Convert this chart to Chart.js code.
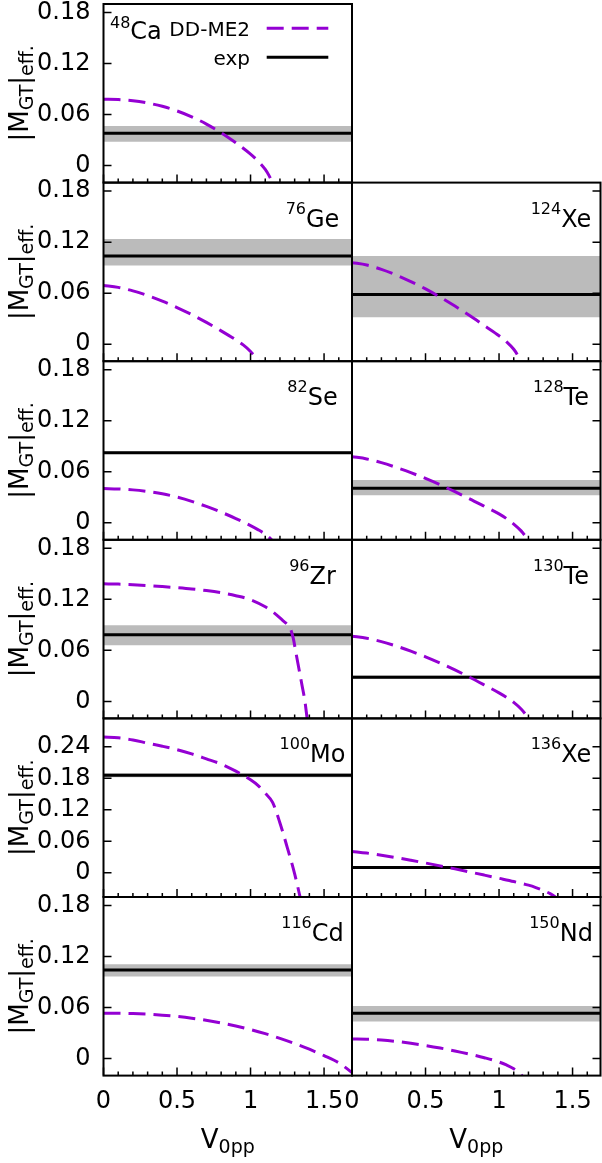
<!DOCTYPE html>
<html>
<head>
<meta charset="utf-8">
<script src="https://cdn.jsdelivr.net/npm/chart.js@4.4.1/dist/chart.umd.min.js"></script>
<style>
  html, body { margin: 0; padding: 0; background: #fff; }
  #figure { position: relative; width: 602px; height: 1163px; overflow: hidden; background: #fff; }
  #figure canvas { position: absolute; }
</style>
</head>
<body>
<div id="figure"></div>
<script>
// data
const massNumbers = ['48', '76', '82', '96', '100', '116', '124', '128', '130', '136', '150'];
const elements = ['Ca', 'Ge', 'Se', 'Zr', 'Mo', 'Cd', 'Xe', 'Te', 'Te', 'Xe', 'Nd'];
const expValue = [0.038, 0.1037, 0.0825, 0.0785, 0.1856, 0.1042, 0.0585, 0.0406, 0.0284, 0.0103, 0.0533];
const expLow   = [0.028, 0.0924, 0.0812, 0.0660, 0.1820, 0.0964, 0.0317, 0.0324, 0.0265, 0.0085, 0.0435];
const expHigh  = [0.0466, 0.1236, 0.0838, 0.0895, 0.1895, 0.1109, 0.1037, 0.0504, 0.0303, 0.0122, 0.0619];

const v48Ca = [0, 0.1, 0.2, 0.3, 0.4, 0.5, 0.6, 0.7, 0.8, 0.9, 1.0, 1.05, 1.1, 1.125, 1.15, 1.17];
const m48Ca = [0.078, 0.0776, 0.0762, 0.0736, 0.0697, 0.0643, 0.0574, 0.0488, 0.0387, 0.0268, 0.0135, 0.0055, -0.0045, -0.0115, -0.0205, -0.028];

const v76Ge = [0, 0.1, 0.2, 0.3, 0.4, 0.5, 0.6, 0.7, 0.8, 0.9, 0.95, 1.0, 1.05, 1.08];
const m76Ge = [0.069, 0.0668, 0.0627, 0.0572, 0.0507, 0.0431, 0.0348, 0.0256, 0.0157, 0.0051, -0.0008, -0.0085, -0.019, -0.027];

const v82Se = [0, 0.1, 0.2, 0.3, 0.4, 0.5, 0.6, 0.7, 0.8, 0.9, 1.0, 1.05, 1.1, 1.14, 1.17];
const m82Se = [0.0403, 0.0398, 0.0387, 0.0368, 0.0341, 0.0302, 0.0252, 0.0192, 0.0125, 0.0050, -0.0033, -0.0080, -0.0135, -0.0195, -0.025];

const v96Zr = [0, 0.1, 0.2, 0.3, 0.4, 0.5, 0.6, 0.7, 0.8, 0.9, 1.0, 1.1, 1.16, 1.22, 1.25, 1.27, 1.29, 1.31, 1.33, 1.35, 1.37, 1.385, 1.40];
const m96Zr = [0.1382, 0.1379, 0.1372, 0.1362, 0.1350, 0.1337, 0.1322, 0.1303, 0.1278, 0.1243, 0.1196, 0.1112, 0.1040, 0.0950, 0.0905, 0.0860, 0.0746, 0.0560, 0.0375, 0.0190, 0.0000, -0.0205, -0.040];

const v100Mo = [0, 0.1, 0.2, 0.3, 0.4, 0.5, 0.6, 0.7, 0.8, 0.9, 1.0, 1.05, 1.1, 1.15, 1.2, 1.25, 1.3, 1.34, 1.37];
const m100Mo = [0.2586, 0.2570, 0.2530, 0.2468, 0.2410, 0.2345, 0.2265, 0.2170, 0.2072, 0.1935, 0.1770, 0.1665, 0.1515, 0.1340, 0.0950, 0.0480, -0.0020, -0.0500, -0.088];

const v116Cd = [0, 0.2, 0.4, 0.6, 0.8, 1.0, 1.1, 1.2, 1.3, 1.4, 1.5, 1.6, 1.69, 1.72];
const m116Cd = [0.0533, 0.0529, 0.0511, 0.0475, 0.0419, 0.0341, 0.0293, 0.0238, 0.0177, 0.0110, 0.0035, -0.0050, -0.0165, -0.021];

const v124Xe = [0, 0.1, 0.2, 0.3, 0.4, 0.5, 0.6, 0.7, 0.8, 0.9, 1.0, 1.05, 1.1, 1.125, 1.15, 1.17];
const m124Xe = [0.0959, 0.0931, 0.0880, 0.0814, 0.0736, 0.0650, 0.0553, 0.0448, 0.0336, 0.0218, 0.0100, 0.0030, -0.0060, -0.0125, -0.0210, -0.029];

const v128Te = [0, 0.1, 0.2, 0.3, 0.4, 0.5, 0.6, 0.7, 0.8, 0.9, 1.0, 1.05, 1.1, 1.15, 1.2, 1.23];
const m128Te = [0.0778, 0.0751, 0.0707, 0.0652, 0.0590, 0.0521, 0.0446, 0.0366, 0.0282, 0.0194, 0.0105, 0.0050, -0.0015, -0.0095, -0.0205, -0.028];

const v130Te = [0, 0.1, 0.2, 0.3, 0.4, 0.5, 0.6, 0.7, 0.8, 0.9, 1.0, 1.05, 1.1, 1.15, 1.2, 1.23];
const m130Te = [0.0766, 0.0743, 0.0703, 0.0651, 0.0591, 0.0524, 0.0450, 0.0370, 0.0284, 0.0193, 0.0100, 0.0048, -0.0012, -0.0090, -0.0195, -0.027];

const v136Xe = [0, 0.1, 0.2, 0.3, 0.4, 0.5, 0.6, 0.7, 0.8, 0.9, 1.0, 1.1, 1.2, 1.25, 1.3, 1.35, 1.4];
const m136Xe = [0.0408, 0.0376, 0.0335, 0.0289, 0.0239, 0.0187, 0.0132, 0.0075, 0.0017, -0.0043, -0.0104, -0.0166, -0.0235, -0.0280, -0.0335, -0.0400, -0.0490];

const v150Nd = [0, 0.1, 0.2, 0.3, 0.4, 0.5, 0.6, 0.7, 0.8, 0.9, 1.0, 1.05, 1.1, 1.15, 1.18];
const m150Nd = [0.0231, 0.0228, 0.0218, 0.0202, 0.0180, 0.0154, 0.0124, 0.0090, 0.0052, 0.0010, -0.0040, -0.0075, -0.0120, -0.0190, -0.0240];

const xRange = [0, 1.69];
const yRange = [-0.02, 0.19];
const yRangeWide = [-0.046, 0.294];
const xMajorTicks = [0, 0.5, 1, 1.5];
const yTickStep = 0.06;

// layout (page pixels)
const PANEL_X = [103.5, 352];
const PANEL_W = 248.5;
const PANEL_TOP = 4;
const PANEL_H = 178.6;
const PAGE_H = 1163;
const FONT = 'DejaVu Sans';

Chart.defaults.font.family = FONT;
Chart.defaults.font.size = 24;
Chart.defaults.color = '#000';

const panels = [
  { i: 0, col: 0, row: 0, v: v48Ca, m: m48Ca },
  { i: 1, col: 0, row: 1, v: v76Ge, m: m76Ge },
  { i: 2, col: 0, row: 2, v: v82Se, m: m82Se },
  { i: 3, col: 0, row: 3, v: v96Zr, m: m96Zr },
  { i: 4, col: 0, row: 4, v: v100Mo, m: m100Mo },
  { i: 5, col: 0, row: 5, v: v116Cd, m: m116Cd },
  { i: 6, col: 1, row: 1, v: v124Xe, m: m124Xe },
  { i: 7, col: 1, row: 2, v: v128Te, m: m128Te },
  { i: 8, col: 1, row: 3, v: v130Te, m: m130Te },
  { i: 9, col: 1, row: 4, v: v136Xe, m: m136Xe },
  { i: 10, col: 1, row: 5, v: v150Nd, m: m150Nd }
];

const isMajor = (val) => xMajorTicks.some(t => Math.abs(t - val) < 1e-9);

// text with sub/superscripts, parts = [{t, s, dy}]
function richText(ctx, parts, x, y, align) {
  let total = 0;
  const widths = parts.map(p => {
    ctx.font = p.s + 'px "' + FONT + '"';
    const w = ctx.measureText(p.t).width;
    total += w;
    return w;
  });
  let cx = align === 'center' ? x - total / 2 : (align === 'right' ? x - total : x);
  ctx.textAlign = 'left';
  ctx.textBaseline = 'alphabetic';
  parts.forEach((p, k) => {
    ctx.font = p.s + 'px "' + FONT + '"';
    ctx.fillText(p.t, cx, y + (p.dy || 0));
    cx += widths[k];
  });
}

const panelDecor = {
  id: 'panelDecor',
  afterDatasetsDraw(chart, args, o) {
    const { ctx, chartArea: a, scales } = chart;
    const sx = scales.x, sy = scales.y;
    ctx.save();
    ctx.strokeStyle = '#000';
    ctx.lineWidth = 1.5;
    ctx.setLineDash([]);
    ctx.beginPath();
    sx.ticks.forEach(t => {
      const px = sx.getPixelForValue(t.value);
      const len = isMajor(t.value) ? 8 : 4;
      ctx.moveTo(px, a.bottom);
      ctx.lineTo(px, a.bottom - len);
    });
    sy.ticks.forEach(t => {
      const py = sy.getPixelForValue(t.value);
      const x0 = o.side === 'left' ? a.left : a.right;
      const dir = o.side === 'left' ? 1 : -1;
      ctx.moveTo(x0, py);
      ctx.lineTo(x0 + dir * 8, py);
    });
    ctx.stroke();
    ctx.lineWidth = 2;
    ctx.strokeRect(a.left, a.top, a.right - a.left, a.bottom - a.top);

    ctx.fillStyle = '#000';
    if (o.first) {
      richText(ctx, [{ t: o.mass, s: 16, dy: -11 }, { t: o.elem, s: 24 }], a.left + 6.5, a.top + 35.3, 'left');
    } else {
      richText(ctx, [{ t: o.mass, s: 16, dy: -13 }, { t: o.elem, s: 24 }], a.left + 209, a.top + 44, 'center');
    }

    if (o.legend) {
      chart.data.datasets.slice(0, 2).forEach((ds, k) => {
        const ly = a.top + 24.3 + k * 29;
        ctx.strokeStyle = ds.borderColor;
        ctx.lineWidth = ds.borderWidth;
        ctx.setLineDash(ds.borderDash || []);
        ctx.beginPath();
        ctx.moveTo(a.left + 163.2, ly);
        ctx.lineTo(a.left + 224.8, ly);
        ctx.stroke();
        richText(ctx, [{ t: ds.label, s: 20 }], a.left + 146.5, ly + 7.5, 'right');
      });
      ctx.setLineDash([]);
    }

    if (o.yTitle) {
      ctx.save();
      ctx.translate(a.left - 75.2, (a.top + a.bottom) / 2);
      ctx.rotate(-Math.PI / 2);
      richText(ctx, [{ t: '|M', s: 26 }, { t: 'GT', s: 19, dy: 5 }, { t: '|', s: 26 }, { t: 'eff.', s: 19, dy: 5 }], 0, 0, 'center');
      ctx.restore();
    }
    if (o.xTitle) {
      richText(ctx, [{ t: 'V', s: 26 }, { t: '0pp', s: 19, dy: 5 }], (a.left + a.right) / 2, a.bottom + 72.4, 'center');
    }
    ctx.restore();
  }
};

const fig = document.getElementById('figure');

panels.forEach(p => {
  const i = p.i;
  const isLeft = p.col === 0;
  const isBottom = p.row === 5;
  const rowTop = PANEL_TOP + PANEL_H * p.row;
  const cTop = Math.floor(rowTop) - 16;
  const cLeft = isLeft ? 0 : 340;
  const cW = isLeft ? 360 : 262;
  const cH = isBottom ? PAGE_H - cTop : Math.ceil(rowTop + PANEL_H + 16) - cTop;
  const padTop = rowTop - cTop;
  const padBottom = isBottom ? 0 : cH - padTop - PANEL_H;
  const padLeft = isLeft ? 0 : PANEL_X[1] - cLeft;
  const padRight = cLeft + cW - (PANEL_X[p.col] + PANEL_W);
  const yr = p.row === 4 ? yRangeWide : yRange;

  const canvas = document.createElement('canvas');
  canvas.width = cW;
  canvas.height = cH;
  canvas.style.left = cLeft + 'px';
  canvas.style.top = cTop + 'px';
  canvas.style.width = cW + 'px';
  canvas.style.height = cH + 'px';
  fig.appendChild(canvas);

  const xMax = xRange[1];
  new Chart(canvas, {
    type: 'line',
    data: {
      datasets: [
        {
          label: 'DD-ME2',
          data: p.v.map((v, k) => ({ x: v, y: p.m[k] })),
          borderColor: '#9400d3',
          borderWidth: 3,
          borderDash: [17, 8],
          pointRadius: 0,
          cubicInterpolationMode: 'monotone',
          fill: false
        },
        {
          label: 'exp',
          data: [{ x: 0, y: expValue[i] }, { x: xMax, y: expValue[i] }],
          borderColor: '#000',
          borderWidth: 3,
          pointRadius: 0,
          fill: false
        },
        {
          label: 'band',
          data: [{ x: 0, y: expHigh[i] }, { x: xMax, y: expHigh[i] }],
          borderColor: 'rgba(0,0,0,0)',
          borderWidth: 0,
          pointRadius: 0,
          fill: false
        },
        {
          label: 'band',
          data: [{ x: 0, y: expLow[i] }, { x: xMax, y: expLow[i] }],
          borderColor: 'rgba(0,0,0,0)',
          borderWidth: 0,
          pointRadius: 0,
          fill: '-1',
          backgroundColor: '#bbbbbb'
        }
      ]
    },
    options: {
      responsive: false,
      animation: false,
      devicePixelRatio: 1,
      layout: { padding: { top: padTop, bottom: padBottom, left: padLeft, right: padRight } },
      plugins: {
        legend: { display: false },
        tooltip: { enabled: false },
        panelDecor: {
          side: isLeft ? 'left' : 'right',
          first: p.row === 0,
          mass: massNumbers[i],
          elem: elements[i],
          legend: p.row === 0,
          yTitle: isLeft,
          xTitle: isBottom
        }
      },
      scales: {
        x: {
          type: 'linear',
          min: xRange[0],
          max: xRange[1],
          display: isBottom,
          grid: { display: false, drawTicks: false },
          border: { display: false },
          ticks: {
            stepSize: 0.1,
            includeBounds: false,
            autoSkip: false,
            maxRotation: 0,
            minRotation: 0,
            padding: 12,
            callback: (val) => isMajor(val) ? String(val) : ''
          },
          afterFit: (s) => {
            if (isBottom) s.height = PAGE_H - (rowTop + PANEL_H);
            s.paddingLeft = 0;
            s.paddingRight = 0;
          }
        },
        y: {
          type: 'linear',
          min: yr[0],
          max: yr[1],
          display: isLeft,
          grid: { display: false, drawTicks: false },
          border: { display: false },
          ticks: {
            stepSize: yTickStep,
            includeBounds: false,
            autoSkip: false,
            padding: 13,
            callback: (val) => val === 0 ? '0' : val.toFixed(2)
          },
          afterFit: (s) => {
            if (isLeft) s.width = PANEL_X[0];
            s.paddingTop = 0;
            s.paddingBottom = 0;
          }
        }
      }
    },
    plugins: [panelDecor]
  });
});
</script>
</body>
</html>
